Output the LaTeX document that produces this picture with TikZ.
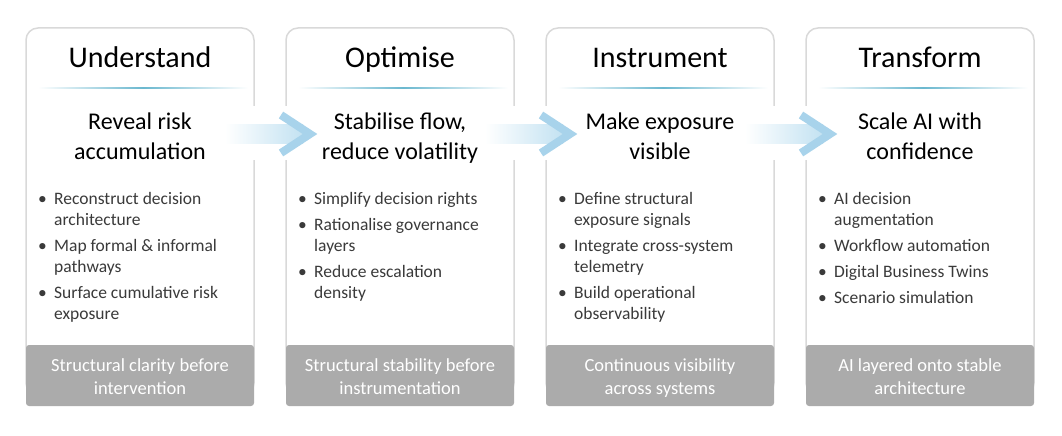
\documentclass[tikz,border=0pt]{standalone}
\usepackage{fontspec}
\setmainfont{Carlito}
\usetikzlibrary{positioning, calc}
\definecolor{cardgray}{HTML}{D9D9D9}
\definecolor{footgray}{HTML}{ABABAB}
\definecolor{pointtext}{HTML}{3A3A3A}
\definecolor{linecyan}{HTML}{6BB8CF}
\definecolor{arrowblue}{HTML}{A8D3EB}
\definecolor{arrowpale}{HTML}{C3E2F2}
\newcommand{\bul}{\makebox[16pt][l]{\textbullet}}
\newcommand{\ind}{\hspace*{16pt}}
\begin{document}
\begin{tikzpicture}[
    x=1pt, y=-1pt,
    card/.style={draw=cardgray, line width=1.5pt, rounded corners=12pt, fill=white,
                 minimum width=228pt, minimum height=367pt, inner sep=0},
    heading/.style={font=\fontsize{30}{36}\selectfont, anchor=base},
    subhead/.style={font=\fontsize{24}{30}\selectfont, align=center, anchor=north, inner sep=0},
    points/.style={font=\fontsize{17.5}{21}\selectfont, align=left, anchor=north west,
                   inner sep=0, text=pointtext},
    footbox/.style={fill=footgray, rounded corners=3pt, minimum width=228pt, minimum height=61pt,
                    inner sep=0},
    foottext/.style={inner sep=0, text=white, font=\fontsize{18.5}{23}\selectfont, align=center,
                     yshift=-2.5pt, execute at end node=\vphantom{y}},
    rule/.style={left color=white, right color=white, middle color=linecyan},
    flowarrow/.pic={
        \fill[white] (-48,-28) rectangle (46,26);
        \shade[left color=white, right color=arrowpale] (-45,-10) rectangle (33,9);
        \draw[arrowblue, line width=8pt, line join=miter] (11,-19) -- (40,0) -- (11,19);
    },
]
\useasboundingbox (0,0) rectangle (1062,436);
% === Four stage cards ===
\node[card] (card1) at (140,211.5) {};
\node[card] (card2) at (400,211.5) {};
\node[card] (card3) at (660,211.5) {};
\node[card] (card4) at (920,211.5) {};
% === Flow arrows between the cards (drawn over the card borders) ===
\pic at (270,134) {flowarrow};
\pic at (530,134) {flowarrow};
\pic at (790,134) {flowarrow};
% === Stage 1 ===
\node[heading] (head1) at (140,67) {Understand};
\shade[rule] (38,87.3) rectangle (248,88.8);
\node[subhead] (sub1) at (140,113) {Reveal risk\\accumulation};
\node[points] (pts1) at (38,192) {\bul Reconstruct decision\\\ind architecture\\[5pt]
    \bul Map formal \& informal\\\ind pathways\\[5pt]
    \bul Surface cumulative risk\\\ind exposure};
\node[footbox] (foot1) at (140,375.5) {};
\node[foottext] (footlbl1) at (foot1.center) {Structural clarity before\\intervention};
% === Stage 2 ===
\node[heading] (head2) at (400,67) {Optimise};
\shade[rule] (298,87.3) rectangle (508,88.8);
\node[subhead] (sub2) at (400,113) {Stabilise flow,\\reduce volatility};
\node[points] (pts2) at (298,192) {\bul Simplify decision rights\\[5pt]
    \bul Rationalise governance\\\ind layers\\[5pt]
    \bul Reduce escalation\\\ind density};
\node[footbox] (foot2) at (400,375.5) {};
\node[foottext] (footlbl2) at (foot2.center) {Structural stability before\\instrumentation};
% === Stage 3 ===
\node[heading] (head3) at (660,67) {Instrument};
\shade[rule] (558,87.3) rectangle (768,88.8);
\node[subhead] (sub3) at (660,113) {Make exposure\\visible};
\node[points] (pts3) at (558,192) {\bul Define structural\\\ind exposure signals\\[5pt]
    \bul Integrate cross-system\\\ind telemetry\\[5pt]
    \bul Build operational\\\ind observability};
\node[footbox] (foot3) at (660,375.5) {};
\node[foottext] (footlbl3) at (foot3.center) {Continuous visibility\\across systems};
% === Stage 4 ===
\node[heading] (head4) at (920,67) {Transform};
\shade[rule] (818,87.3) rectangle (1028,88.8);
\node[subhead] (sub4) at (920,113) {Scale AI with\\confidence};
\node[points] (pts4) at (818,192) {\bul AI decision\\\ind augmentation\\[5pt]
    \bul Workflow automation\\[5pt]
    \bul Digital Business Twins\\[5pt]
    \bul Scenario simulation};
\node[footbox] (foot4) at (920,375.5) {};
\node[foottext] (footlbl4) at (foot4.center) {AI layered onto stable\\architecture};
\end{tikzpicture}
\end{document}
